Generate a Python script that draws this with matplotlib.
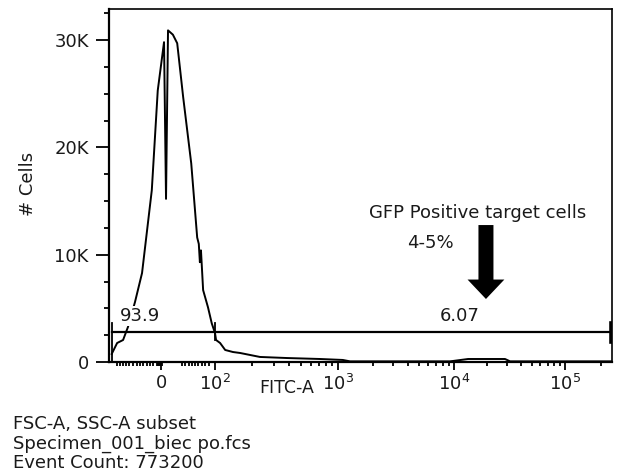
import numpy as np
import matplotlib
matplotlib.use("Agg")
import matplotlib.pyplot as plt

plt.rcParams['font.family'] = ['DejaVu Sans']
plt.rcParams['mathtext.fontset'] = 'dejavusans'

# ---------------- data ----------------
fitc_values = [-91, -81, -70, -61, -48, -35, -17, -6, 5.6, 9.3, 13, 22, 30, 41, 56,
               67, 70, 72, 74, 78, 87, 94, 100, 102, 110, 121, 140, 160, 232, 385,
               714, 1100, 1270, 9250, 13400, 28800, 32000, 247000]
cell_counts = [750, 1770, 2050, 3260, 5590, 8290, 16000, 25300, 29800, 15200, 30900,
               30500, 29700, 24700, 18500, 11600, 11000, 9300, 10400, 6700, 5100,
               3600, 2700, 2050, 1770, 1120, 930, 840, 470, 370, 280, 190, 60, 60,
               280, 280, 60, 60]

gate_level = 2800
gate_left, gate_mid, gate_right = -90, 100, 245000
gate_pcts = ["93.9", "6.07"]
gate_label_x = [-39, 11300]
gate_label_y = 4290

x_major = [0, 100, 1000, 10000, 100000]
x_major_labels = ["0", r"$\mathregular{10^{2}}$", r"$\mathregular{10^{3}}$",
                  r"$\mathregular{10^{4}}$", r"$\mathregular{10^{5}}$"]
y_major = [0, 10000, 20000, 30000]
y_major_labels = ["0", "10K", "20K", "30K"]

footer_lines = ["FSC-A, SSC-A subset", "Specimen_001_biec po.fcs", "Event Count: 773200"]

# ------------- biexponential-like scale -------------
G_ANCH = np.array([-5.0, -0.96, 0.0, 1.0, 2.0, 3.0, 4.0, 4.398, 8.0])
P_ANCH = np.array([-109.0, 109.0, 161.0, 215.0, 338.0, 454.0, 565.0, 612.0, 1033.0])


def _g(x):
    x = np.asarray(x, dtype=float)
    ax_ = np.abs(x)
    with np.errstate(divide='ignore', invalid='ignore'):
        lg = np.sign(x) * (1 + np.log10(np.maximum(ax_, 1e-12) / 100.0))
    return np.where(ax_ <= 100, x / 100.0, lg)


def _ginv(g):
    g = np.asarray(g, dtype=float)
    ag = np.abs(g)
    with np.errstate(over='ignore'):
        big = np.sign(g) * 100.0 * 10 ** (ag - 1)
    return np.where(ag <= 1, 100.0 * g, big)


def forward(x):
    return np.interp(_g(x), G_ANCH, P_ANCH)


def inverse(p):
    return _ginv(np.interp(p, P_ANCH, G_ANCH))


# ---------------- figure ----------------
W, H = 619, 474
FS = 13
TXT = '#1a1a1a'
fig = plt.figure(figsize=(W / 100, H / 100), dpi=100)
L, R, T, B = 109, 612, 9, 362
ax = fig.add_axes([L / W, 1 - B / H, (R - L) / W, (B - T) / H])
ax.set_xscale('function', functions=(forward, inverse))
ax.set_xlim(-96, 250000)
ax.set_ylim(0, 32890)

ax.plot(fitc_values, cell_counts, color='black', lw=1.4, zorder=3)

# gate
ax.plot([gate_left, gate_right], [gate_level, gate_level], color='black', lw=1.6, zorder=4)
ax.plot([gate_left, gate_left], [0, 3600], color='black', lw=1.3, zorder=4)
ax.plot([gate_mid, gate_mid], [2050, 3600], color='black', lw=1.3, zorder=4)
ax.plot([gate_right, gate_right], [1860, 3630], color='black', lw=2.6, zorder=4)

for lbl, xx in zip(gate_pcts, gate_label_x):
    ax.text(xx, gate_label_y, lbl, ha='center', va='center', fontsize=FS, color=TXT,
            zorder=5, bbox=dict(facecolor='white', edgecolor='none', pad=0.5))

# arrow annotation
ax.annotate('', xy=(19400, 5870), xytext=(19400, 12760),
            arrowprops=dict(arrowstyle='simple,head_length=14,head_width=26.5,tail_width=10.8',
                            mutation_scale=1, fc='black', ec='black', lw=0,
                            shrinkA=0, shrinkB=0), zorder=6)
ax.text(16400, 13880, "GFP Positive target cells", ha='center', va='center',
        fontsize=FS, color=TXT)
ax.text(6200, 11090, "4-5%", ha='center', va='center', fontsize=FS, color=TXT)

# ticks
ax.set_xticks(x_major)
ax.set_xticklabels(x_major_labels)
minor_lin = [-82, -76, -70, -65, -59, -52, -45, -39, -33, -26, -20, -14, -8, -5.5, -3, -1.5,
             1.5, 38, 44, 51, 57, 63, 69, 75, 81, 88]
minor_log = [m * 10 ** e for e in (2, 3, 4, 5) for m in range(2, 10) if m * 10 ** e < 250000]
ax.set_xticks(minor_lin + minor_log, minor=True)
ax.set_yticks(y_major)
ax.set_yticklabels(y_major_labels)
ax.set_yticks(np.arange(0, 32600, 2500), minor=True)

ax.tick_params(axis='both', which='both', direction='out', color='black', width=1.3,
               labelsize=FS, labelcolor=TXT)
ax.tick_params(axis='y', which='major', length=9.5, pad=5)
ax.tick_params(axis='y', which='minor', length=3.6)
ax.tick_params(axis='x', which='major', length=5.5, pad=3)
ax.tick_params(axis='x', which='minor', length=3)

for s in ax.spines.values():
    s.set_linewidth(1.2)
ax.spines['left'].set_linewidth(1.6)
ax.spines['bottom'].set_linewidth(1.6)

ax.set_xlabel("FITC-A", fontsize=12.5, color=TXT, va='center')
ax.set_ylabel("# Cells", fontsize=FS, color=TXT, va='center')
ax.xaxis.set_label_coords((287 - L) / (R - L), (B - 388) / (B - T))
ax.yaxis.set_label_coords((28 - L) / (R - L), (B - 184) / (B - T))

for i, line in enumerate(footer_lines):
    fig.text(13 / W, 1 - (424 + 19.5 * i) / H, line, ha='left', va='center',
             fontsize=FS, color=TXT)

fig.savefig("out.png", dpi=100)
